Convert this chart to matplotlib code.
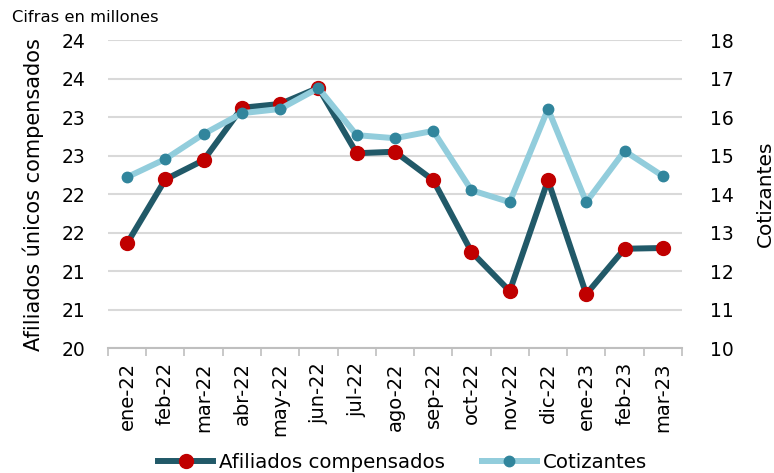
import matplotlib
matplotlib.use('Agg')
import matplotlib.pyplot as plt
import numpy as np
from matplotlib.ticker import FixedLocator

plt.rcParams['font.family'] = ['DejaVu Sans']

meses = ['ene-22', 'feb-22', 'mar-22', 'abr-22', 'may-22', 'jun-22', 'jul-22', 'ago-22',
         'sep-22', 'oct-22', 'nov-22', 'dic-22', 'ene-23', 'feb-23', 'mar-23']
afiliados = [21.36, 22.19, 22.44, 23.12, 23.17, 23.38, 22.53, 22.55,
             22.18, 21.25, 20.74, 22.18, 20.70, 21.29, 21.30]
cotizantes = [14.44, 14.91, 15.56, 16.10, 16.21, 16.75, 15.53, 15.45,
              15.64, 14.10, 13.79, 16.21, 13.79, 15.12, 14.47]
ticks_izq = [20, 20.5, 21, 21.5, 22, 22.5, 23, 23.5, 24]
etiquetas_izq = ['20', '21', '21', '22', '22', '23', '23', '24', '24']
ticks_der = list(range(10, 19))

fig = plt.figure(figsize=(7.74, 4.73), dpi=100)
ax = fig.add_axes([0.1395, 0.264, 0.7415, 0.6514])
ax2 = ax.twinx()

x = np.arange(len(meses))
l1, = ax.plot(x, afiliados, color='#215968', lw=4.3, marker='o', ms=10,
              mfc='#C00000', mec='#C00000', zorder=3, label='Afiliados compensados')
l2, = ax2.plot(x, cotizantes, color='#92CDDC', lw=4.3, marker='o', ms=7.5,
               mfc='#31859C', mec='#31859C', zorder=4, label='Cotizantes')

ax.set_xlim(-0.5, len(meses) - 0.5)
ax.set_ylim(20, 24)
ax2.set_ylim(10, 18)
ax.set_yticks(ticks_izq)
ax.set_yticklabels(etiquetas_izq)
ax2.set_yticks(ticks_der)
ax.set_xticks(x)
ax.set_xticklabels(meses, rotation=90)
ax.xaxis.set_minor_locator(FixedLocator(np.arange(-0.5, len(meses), 1)))
ax.tick_params(axis='x', which='major', length=0, labelsize=14, pad=10)
ax.tick_params(axis='x', which='minor', length=6, color='#BFBFBF', width=1.2)
ax.tick_params(axis='y', length=0, labelsize=13.5, pad=16)
ax2.tick_params(axis='y', length=0, labelsize=13.5, pad=20)

ax.grid(axis='y', color='#D9D9D9', lw=1.5)
ax.set_axisbelow(True)
for a in (ax, ax2):
    for s in ('top', 'left', 'right', 'bottom'):
        a.spines[s].set_visible(False)
ax.spines['bottom'].set_visible(True)
ax.spines['bottom'].set_color('#BFBFBF')
ax.spines['bottom'].set_linewidth(1.5)

ax.set_ylabel('Afiliados únicos compensados', fontsize=15, labelpad=13)
ax2.set_ylabel('Cotizantes', fontsize=14.5, labelpad=16)
fig.text(0.016, 0.962, 'Cifras en millones', fontsize=11.8, va='center')

fig.legend(handles=[l1, l2], loc='center', bbox_to_anchor=(0.52, 0.022), ncol=2,
           frameon=False, fontsize=14.2, handlelength=2.8, handletextpad=0.3,
           columnspacing=1.85)

fig.savefig('out.png', dpi=100)
